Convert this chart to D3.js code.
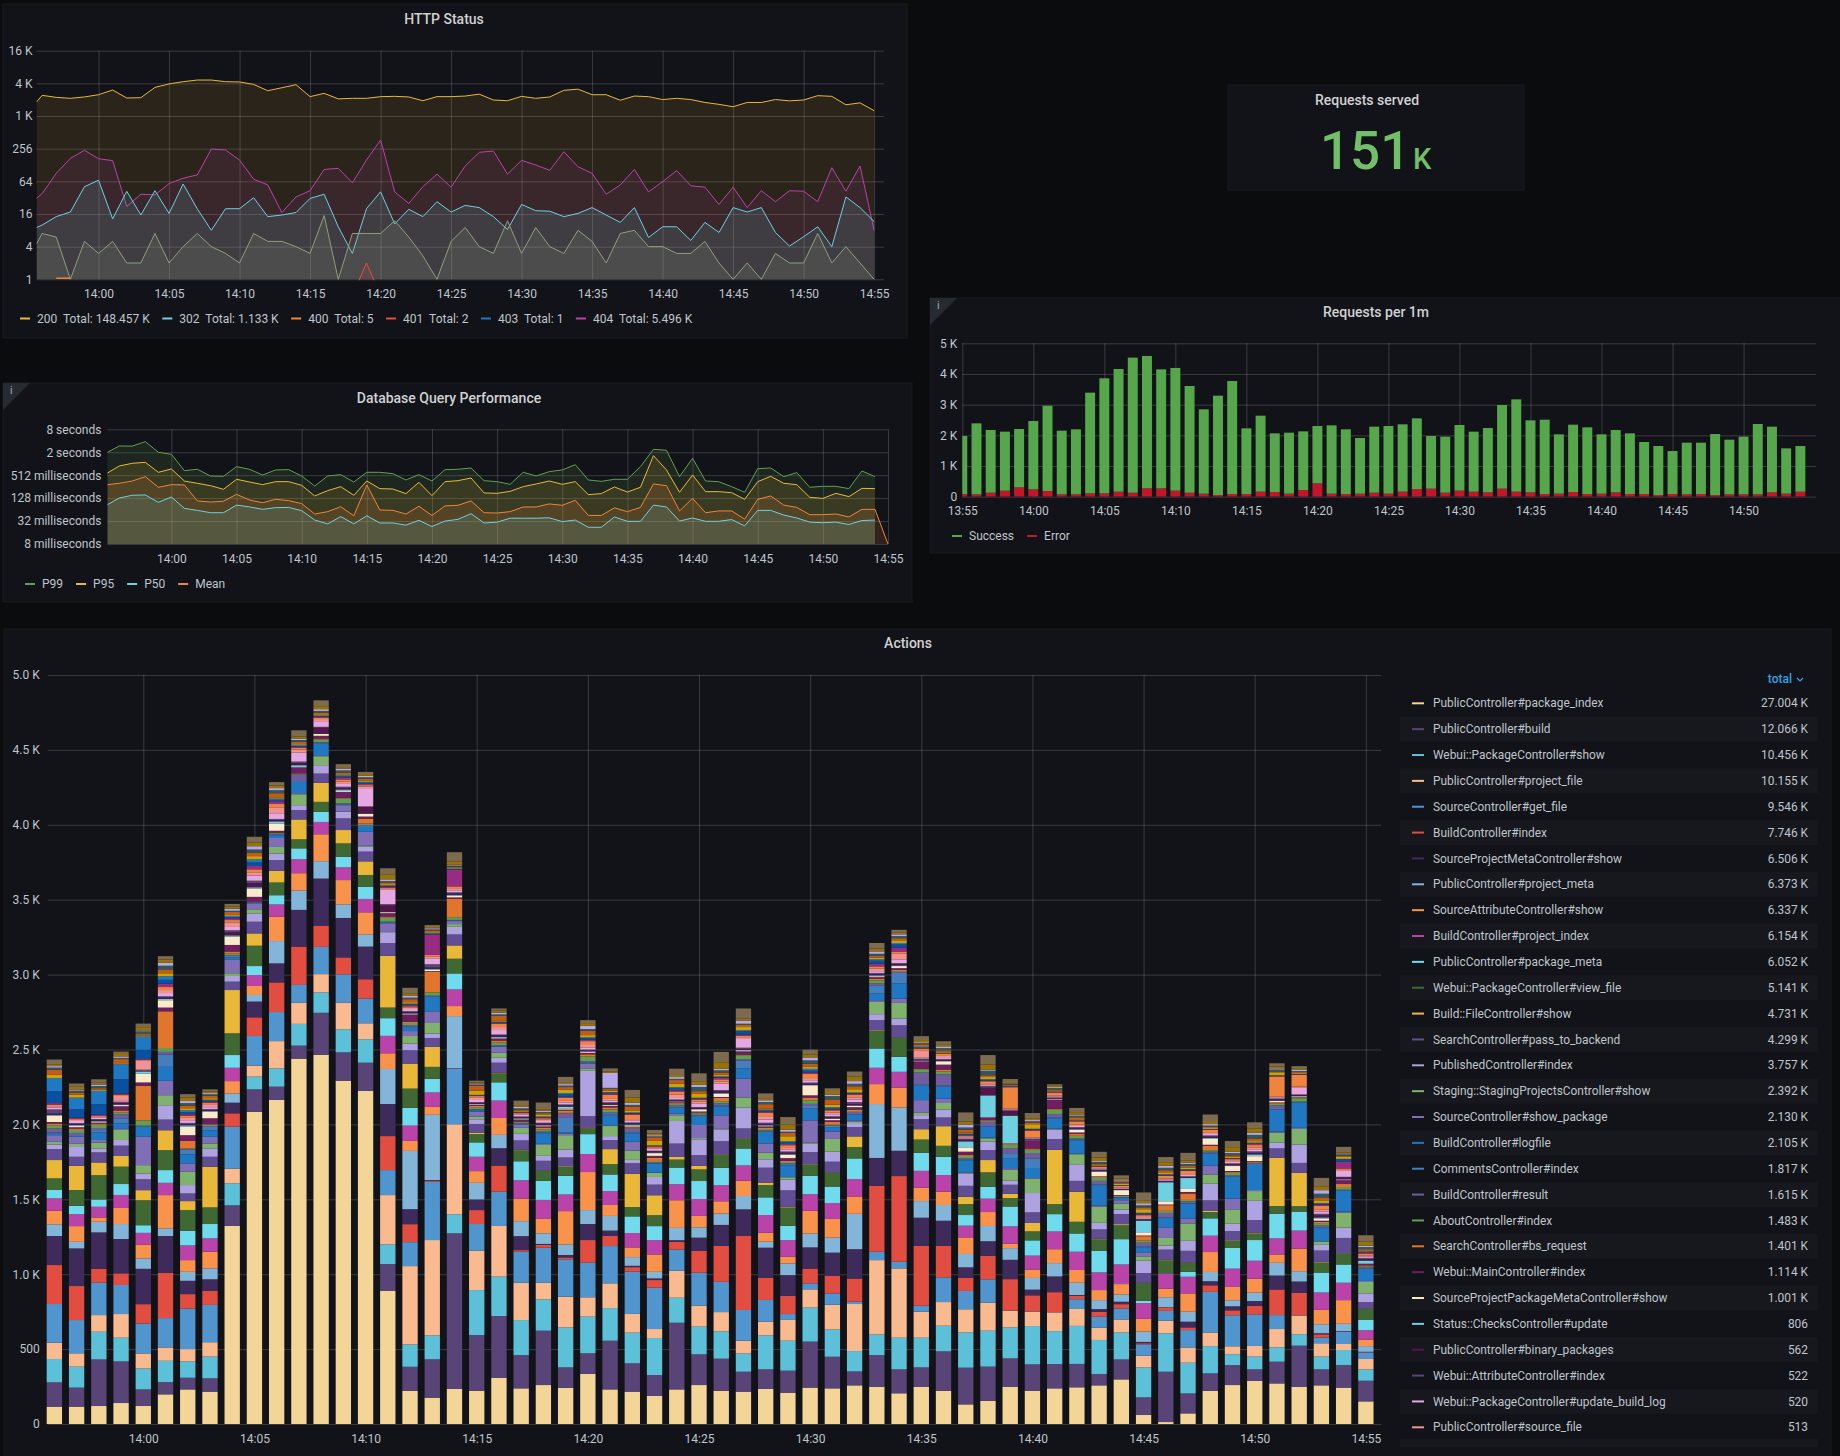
<!DOCTYPE html>
<html lang="en">
  <head>
    <meta charset="UTF-8" />
    <title>Grafana dashboard</title>
    <style>
      html, body { margin: 0; background: #0b0c0e; }
      svg { display: block; }
      text { font-family: Roboto, sans-serif; }
      .tick text { font-size: 12px; fill: #bfc5cc; }
      .tick line { stroke: rgba(255, 255, 255, 0.17); }
      .domain { display: none; }
      .title { font-size: 14px; font-weight: 500; fill: #d0d1d3; text-anchor: middle; }
      .leg { font-size: 12px; fill: #bfc5cc; }
      .row { font-size: 11.9px; fill: #bfc5cc; }
    </style>
  </head>
  <body>
    <svg id="dash" width="1840" height="1456"></svg>
    <script src="https://cdnjs.cloudflare.com/ajax/libs/d3/7.1.0/d3.min.js"></script>
    <script>
      // HTTP Status, per minute from 13:55:36 to 14:55
      const http200 = [1853, 2461, 2260, 2170, 2300, 2530, 3086, 2200, 2230, 3450, 4000, 4396, 4716, 4716, 4400, 4350, 3920, 3000, 3400, 3870, 2330, 2680, 2120, 2170, 2170, 2330, 2360, 2300, 1960, 2330, 2330, 2390, 2590, 2020, 1960, 2360, 2170, 2300, 3050, 3200, 2530, 2530, 2000, 2390, 2330, 2060, 2170, 2060, 1820, 1680, 1520, 1820, 1820, 2060, 1950, 2020, 2430, 2360, 1650, 1790, 1285];
      const http302 = [9, 10, 14.3, 17.4, 51, 67, 13, 42, 15.3, 43, 16.4, 57, 20, 8, 20, 20, 32, 14.3, 15.3, 17, 31, 37, 9.3, 3, 20, 41, 10.5, 19.5, 14.3, 27, 17.4, 23, 21, 14.3, 8.3, 24, 18.4, 18, 14.3, 16.4, 21, 15.3, 11.2, 21, 5.9, 9.3, 9.3, 5.2, 11.2, 7.3, 21, 17.4, 21, 7.3, 4.1, 6.1, 9.3, 4, 33, 21, 11.6];
      const http404 = [31, 38, 90, 170, 239, 167, 154, 22, 37, 36, 58, 73, 84, 252, 242, 158, 70, 55, 17, 33, 43, 106, 111, 60, 158, 370, 41, 25, 51, 87, 50, 123, 219, 232, 87, 156, 128, 102, 225, 119, 90, 37, 55, 106, 41, 63, 101, 53, 50, 24, 50, 21, 43, 27, 43, 42, 27, 114, 42, 123, 8];
      const httpOther = [4.5, 7, 6, 1, 5, 3, 5, 2, 2, 7, 2, 4, 7, 4, 3, 2, 7, 5, 5, 4, 3, 15, 1, 7, 7, 7, 12, 6, 2.7, 1, 5, 9, 4, 3, 12, 3, 9, 4, 3, 8, 5, 2, 7, 8, 4, 4, 3, 3, 5, 2, 1, 2, 1, 3, 2, 2, 7, 2, 4, 2, 1];
      const http400 = [[-3, 1], [-2, 1]];
      const http401 = [[18, 0.5], [19, 2], [20, 0.5]];
      const httpTicks = [1, 4, 16, 64, 256, 1024, 4096, 16384];
      const httpTickLabels = ["1", "4", "16", "64", "256", "1 K", "4 K", "16 K"];
      const httpLegend = [["200", "Total: 148.457 K"], ["302", "Total: 1.133 K"], ["400", "Total: 5"], ["401", "Total: 2"], ["403", "Total: 1"], ["404", "Total: 5.496 K"]];

      // Database Query Performance, milliseconds
      const dbP99 = [2040, 2992, 2970, 3886, 2040, 1808, 673, 730, 488, 478, 857, 730, 518, 701, 715, 488, 267, 488, 529, 339, 609, 609, 562, 383, 529, 360, 715, 730, 791, 368, 346, 295, 609, 488, 634, 701, 968, 383, 353, 399, 399, 857, 2446, 2304, 469, 1419, 360, 346, 256, 182, 760, 791, 469, 597, 246, 261, 261, 227, 660, 469];
      const dbP95 = [585, 893, 1049, 1114, 609, 745, 360, 313, 272, 218, 399, 339, 289, 346, 346, 278, 146, 201, 256, 152, 360, 227, 222, 168, 333, 149, 346, 368, 432, 175, 171, 193, 256, 301, 360, 295, 346, 158, 168, 251, 185, 246, 1668, 701, 182, 518, 189, 189, 178, 119, 346, 478, 313, 289, 134, 126, 171, 140, 231, 227];
      const dbP50 = [86, 129, 152, 155, 99, 137, 69, 61, 53, 53, 84, 75, 65, 72, 73, 60, 34, 27, 42, 27, 44, 28.5, 28.5, 25, 33.5, 23, 32, 35.5, 50, 28.5, 30, 38, 38, 38, 39, 31, 34, 22, 22, 41, 31.5, 31.5, 84, 75, 32, 38.5, 31.5, 31.5, 35, 24, 61, 61, 46, 38.5, 30, 29, 30, 26, 33, 34];
      const dbMean = [289, 313, 360, 469, 246, 289, 283, 108, 101, 106, 161, 114, 97, 119, 110, 92, 49, 56.5, 76, 44, 283, 62.5, 61, 49, 78, 45, 80, 83, 108, 53, 52, 56.5, 75, 75, 90, 83, 112, 45, 45, 71, 56.5, 73, 301, 272, 59, 126, 53, 59, 59, 36, 119, 146, 84, 73, 47, 47, 49, 41, 65, 65, 8];
      const dbTicks = [8, 32, 128, 512, 2048, 8192];
      const dbTickLabels = ["8 milliseconds", "32 milliseconds", "128 milliseconds", "512 milliseconds", "2 seconds", "8 seconds"];
      const dbLegend = ["P99", "P95", "P50", "Mean"];

      // Requests per 1m, 13:55 to 14:54
      const reqSuccess = [1891, 2315, 2044, 1924, 1903, 2228, 2782, 2076, 2120, 3282, 3750, 4000, 4403, 4315, 3880, 4000, 3479, 2750, 3239, 3685, 2141, 2478, 1913, 1989, 1913, 1869, 2228, 2109, 1815, 2153, 2206, 2196, 2304, 1717, 1827, 2141, 1957, 2098, 2728, 3011, 2348, 2424, 1935, 2196, 2174, 1935, 2033, 1978, 1696, 1598, 1402, 1685, 1674, 1989, 1783, 1881, 2294, 2142, 1478, 1489];
      const reqError = [87, 76, 130, 196, 304, 239, 185, 76, 76, 109, 109, 163, 130, 272, 272, 196, 130, 98, 54, 87, 87, 163, 152, 98, 217, 435, 98, 87, 98, 130, 98, 163, 250, 261, 130, 196, 163, 141, 261, 163, 141, 87, 98, 152, 87, 98, 141, 87, 87, 54, 87, 76, 87, 54, 76, 76, 76, 141, 98, 163];
      const reqTicks = [0, 1000, 2000, 3000, 4000, 5000];
      const reqTickLabels = ["0", "1 K", "2 K", "3 K", "4 K", "5 K"];

      // Actions legend, in stack order
      const actionNames = ["PublicController#package_index", "PublicController#build", "Webui::PackageController#show", "PublicController#project_file", "SourceController#get_file", "BuildController#index", "SourceProjectMetaController#show", "PublicController#project_meta", "SourceAttributeController#show", "BuildController#project_index", "PublicController#package_meta", "Webui::PackageController#view_file", "Build::FileController#show", "SearchController#pass_to_backend", "PublishedController#index", "Staging::StagingProjectsController#show", "SourceController#show_package", "BuildController#logfile", "CommentsController#index", "BuildController#result", "AboutController#index", "SearchController#bs_request", "Webui::MainController#index", "SourceProjectPackageMetaController#show", "Status::ChecksController#update", "PublicController#binary_packages", "Webui::AttributeController#index", "Webui::PackageController#update_build_log", "PublicController#source_file"];
      const actionTotals = ["27.004 K", "12.066 K", "10.456 K", "10.155 K", "9.546 K", "7.746 K", "6.506 K", "6.373 K", "6.337 K", "6.154 K", "6.052 K", "5.141 K", "4.731 K", "4.299 K", "3.757 K", "2.392 K", "2.130 K", "2.105 K", "1.817 K", "1.615 K", "1.483 K", "1.401 K", "1.114 K", "1.001 K", "806", "562", "522", "520", "513"];
      // the 29 above, then the ten smaller actions scrolled out of the legend
      const actionColors = ["#F4D598", "#584477", "#5CC0D8", "#F9BA8F", "#5195CE", "#E24D42", "#3F2B5B", "#82B5D8", "#F9934C", "#BA43A9", "#70DBED", "#3F6833", "#EAB839", "#614D93", "#AEA2E0", "#7EB26D", "#806EB7", "#1F78C1", "#447EBC", "#705DA0", "#629E51", "#E0752D", "#6D1F62", "#FCEACA", "#6ED0E0", "#511749", "#584477", "#E5A8E2", "#F29191", "#EF843C", "#962D82", "#0A50A1", "#1F78C1", "#CCA300", "#C15C17", "#2F575E", "#B7A8E8", "#967302", "#7D6B4F"];
      const actionTicks = [0, 500, 1000, 1500, 2000, 2500, 3000, 3500, 4000, 4500, 5000];
      const actionTickLabels = ["0", "500", "1.0 K", "1.5 K", "2.0 K", "2.5 K", "3.0 K", "3.5 K", "4.0 K", "4.5 K", "5.0 K"];

      const actions1356 = [116,162,156,109,258,260,194,78,91,82,56,78,122,73,31,18,44,10,8,26,22,12,10,40,6,10,28,12,10,8,12,78,89,22,34,14,10,12,32];
      const actions1357 = [116,127,140,89,222,227,251,44,105,80,56,105,162,60,71,18,44,6,6,14,20,10,8,8,6,8,6,14,8,6,8,56,78,20,14,12,8,18,22];
      const actions1358 = [120,311,185,111,216,93,243,71,29,71,49,162,85,67,27,38,18,50,16,14,22,8,6,6,4,8,6,8,6,6,8,71,89,8,10,14,10,12,23];
      const actions1359 = [140,278,158,158,194,78,229,100,107,87,73,116,71,69,38,67,11,34,33,26,14,12,28,8,4,10,8,6,33,8,8,96,100,6,28,8,10,22,10];
      const actions1400 = [120,111,140,100,200,129,236,69,93,78,51,167,67,73,38,56,189,67,4,4,35,231,22,58,16,4,4,4,62,4,4,62,89,6,10,18,6,22,24];
      const actions1401 = [198,82,142,89,196,303,245,51,222,82,85,133,133,71,96,67,96,93,82,18,26,245,25,49,8,10,8,22,20,20,22,26,24,20,26,24,20,22,22];
      const actions1402 = [231,78,109,82,271,96,89,60,78,98,98,138,60,51,56,89,56,60,33,2,4,51,38,56,10,8,8,18,16,14,10,14,12,14,18,16,14,24,22];
      const actions1403 = [216,89,145,96,249,93,78,73,111,89,96,111,271,67,56,33,44,44,22,6,8,4,40,44,4,6,8,12,20,10,8,6,6,10,16,10,8,12,13];
      const actions1404 = [1322,138,147,98,280,89,71,62,82,89,85,145,289,56,38,18,93,14,8,4,12,14,44,56,8,20,14,22,30,16,12,8,8,6,20,8,14,14,18];
      const actions1405 = [2083,151,85,73,198,125,105,44,60,73,60,136,82,78,56,27,40,4,2,2,2,2,31,56,8,28,16,34,22,20,22,24,20,22,24,20,22,25,38];
      const actions1406 = [2163,89,122,182,194,198,127,149,162,82,62,85,78,71,44,44,60,18,6,4,6,2,12,49,14,8,8,38,40,22,18,10,8,8,28,20,14,18,22];
      const actions1407 = [2439,87,145,142,118,256,245,129,116,93,73,60,133,62,33,73,7,75,6,44,6,2,40,2,12,14,10,60,20,12,6,6,6,6,16,12,10,14,41];
      const actions1408 = [2465,280,136,122,182,142,314,116,180,82,67,67,127,62,56,60,6,78,6,4,18,6,18,12,2,40,6,38,14,10,6,4,4,8,12,10,12,20,39];
      const actions1409 = [2292,189,154,178,189,113,263,91,162,85,71,89,89,78,44,2,42,4,4,4,33,4,40,6,10,10,8,19,16,14,14,6,8,6,12,14,12,10,20];
      const actions1410 = [2225,187,156,107,165,129,218,82,147,89,82,78,91,65,33,6,93,33,6,6,10,33,14,18,2,44,4,122,10,10,8,8,6,6,14,10,10,12,14];
      const actions1411 = [890,178,131,329,167,227,214,234,105,116,118,71,345,85,73,2,58,4,4,2,27,8,22,6,2,44,8,96,6,8,8,4,4,8,12,8,12,34,40];
      const actions1412 = [222,160,149,523,160,120,100,389,67,102,118,129,167,89,44,51,33,22,10,8,14,8,49,4,4,8,6,14,10,8,8,6,4,10,20,10,12,14,40];
      const actions1413 = [176,256,160,636,389,7,4,436,53,96,91,80,133,60,29,71,78,96,4,4,22,138,4,10,6,8,22,40,10,12,138,4,4,6,12,6,8,8,14];
      const actions1414 = [234,1039,127,601,369,2,2,349,67,111,107,98,89,73,51,18,20,4,2,2,18,122,10,12,6,8,8,14,14,12,111,4,4,6,6,8,6,22,61];
      const actions1415 = [222,372,300,263,178,93,71,111,78,96,96,56,9,58,31,18,33,8,6,4,12,10,6,4,2,6,6,14,18,8,4,2,2,28,33,8,6,8,12];
      const actions1416 = [309,412,263,338,229,174,116,89,113,116,122,60,4,67,33,33,40,4,2,4,18,14,14,4,6,10,6,30,20,22,6,4,4,8,30,10,12,14,14];
      const actions1417 = [238,222,234,249,207,11,93,100,151,122,127,73,4,62,44,40,22,4,2,2,8,4,14,4,4,6,6,12,6,6,4,2,2,6,8,8,10,12,30];
      const actions1418 = [260,363,209,111,234,18,7,71,96,127,127,67,2,65,33,73,7,71,6,6,14,12,8,6,2,10,6,12,10,8,6,2,4,14,8,8,8,10,45];
      const actions1419 = [242,136,267,205,249,13,16,71,222,111,125,60,4,58,53,96,11,6,98,30,4,16,6,8,12,8,6,14,10,22,6,18,6,22,18,10,10,8,40];
      const actions1420 = [334,138,245,129,231,151,107,93,254,120,133,40,4,76,303,16,33,4,4,6,33,14,10,6,4,6,6,14,22,20,10,10,6,14,30,10,22,18,20];
      const actions1421 = [231,325,218,165,249,67,36,98,73,93,111,69,100,60,27,67,4,69,6,14,18,14,10,6,2,8,8,12,10,28,10,4,4,8,12,8,100,10,20];
      const actions1422 = [216,189,205,125,283,29,9,58,65,96,111,62,222,71,22,62,60,56,6,24,4,6,4,8,6,8,6,14,8,29,8,4,4,14,26,10,14,36,50];
      const actions1423 = [187,140,247,60,276,51,11,44,116,96,93,73,133,71,51,27,2,60,2,8,8,22,12,18,4,8,4,14,6,8,4,2,2,30,24,6,8,10,25];
      const actions1424 = [231,445,167,180,142,51,11,82,185,107,111,53,18,89,151,38,11,40,4,10,10,6,6,4,2,6,6,10,24,20,8,16,4,24,24,8,12,14,42];
      const actions1425 = [260,205,185,140,220,147,87,69,76,113,120,78,24,71,105,9,87,60,4,4,10,6,6,14,4,6,6,22,14,12,6,4,4,26,18,28,14,24,53];
      const actions1426 = [222,214,182,129,202,240,140,76,82,107,116,85,4,89,78,4,91,60,6,14,14,22,6,22,4,12,8,44,14,14,12,4,4,12,14,14,10,44,69];
      const actions1427 = [216,133,122,85,205,496,176,89,102,102,113,67,2,65,140,67,127,67,51,8,29,4,22,6,4,6,8,58,12,10,8,24,4,22,14,8,20,14,68];
      const actions1428 = [234,131,227,91,145,149,200,40,60,118,118,82,16,100,56,44,62,78,4,4,10,10,8,4,4,8,8,22,22,22,10,6,6,6,30,14,12,14,32];
      const actions1429 = [209,147,200,142,36,122,138,78,44,111,96,122,4,111,71,16,2,78,8,6,8,8,18,22,4,10,8,14,10,18,8,14,4,34,22,8,14,34,50];
      const actions1430 = [243,307,227,122,40,98,142,93,151,111,122,73,4,82,56,7,149,78,18,14,24,18,15,67,2,8,8,16,14,28,10,12,12,14,20,22,20,20,32];
      const actions1431 = [238,211,182,165,76,118,154,100,125,105,111,93,2,71,67,85,49,30,8,4,4,18,12,10,2,8,6,14,12,14,6,10,4,18,35,22,10,24,18];
      const actions1432 = [258,93,136,314,16,154,196,236,116,116,138,76,71,62,27,11,7,38,4,14,6,10,16,10,2,10,12,18,14,16,8,4,4,22,20,16,18,30,34];
      const actions1433 = [249,211,138,496,56,441,185,360,133,109,129,118,4,67,40,82,11,44,56,12,20,12,10,6,6,8,8,12,18,14,18,20,10,10,12,14,16,18,38];
      const actions1434 = [205,160,211,463,44,572,169,289,133,105,100,127,2,82,44,105,29,100,71,6,6,8,12,14,4,8,8,22,40,12,30,20,10,18,14,14,12,10,20];
      const actions1435 = [249,129,198,174,40,400,187,111,89,113,120,89,69,67,27,18,82,100,6,78,22,4,49,4,2,4,8,6,46,14,4,4,6,4,12,8,6,14,26];
      const actions1436 = [222,263,171,158,165,211,167,105,89,111,122,73,131,58,53,44,29,82,4,76,20,12,33,22,2,6,8,12,8,16,2,2,2,8,8,14,12,14,20];
      const actions1437 = [131,245,236,154,122,89,69,89,111,78,71,73,49,73,82,4,4,80,4,8,18,6,22,29,40,10,8,6,6,8,4,6,4,6,20,14,20,20,61];
      const actions1438 = [154,229,240,187,156,156,98,102,93,89,80,96,82,67,56,22,4,74,4,28,8,4,18,2,145,51,11,6,6,20,4,6,4,14,12,30,8,34,63];
      const actions1439 = [249,189,207,111,2,209,129,78,29,116,133,56,29,60,27,73,11,67,33,34,22,6,2,2,185,33,2,6,6,142,4,2,2,4,6,8,6,10,13];
      const actions1440 = [222,176,256,96,2,107,38,78,56,93,102,60,56,71,129,96,4,67,62,38,22,8,56,2,2,4,2,4,4,44,8,4,2,30,12,8,8,12,35];
      const actions1441 = [238,162,220,125,2,133,105,89,93,118,116,67,363,71,62,4,4,69,6,22,29,6,62,4,2,4,4,6,8,16,6,2,2,6,8,10,6,12,6];
      const actions1442 = [245,156,254,113,65,24,4,82,85,122,122,78,200,73,111,67,4,89,4,8,18,12,10,18,4,6,8,8,8,22,4,2,2,6,14,10,8,16,28];
      const actions1443 = [258,76,227,82,73,33,18,60,67,118,145,76,4,62,44,107,9,136,4,24,20,6,4,30,4,6,6,6,4,8,4,2,2,6,8,10,6,24,38];
      const actions1444 = [298,133,180,87,73,29,16,49,69,131,169,93,7,67,31,40,22,14,4,4,6,2,4,33,2,4,4,6,4,8,2,2,2,10,8,6,8,10,23];
      const actions1445 = [60,118,200,78,76,7,9,69,85,105,16,118,2,65,82,29,27,34,6,24,14,30,4,22,78,6,6,6,6,12,6,6,4,24,12,14,14,16,56];
      const actions1446 = [13,336,256,85,65,22,2,67,58,100,2,87,4,67,27,51,71,62,4,30,14,38,4,22,127,6,4,8,6,18,4,4,4,12,14,16,14,24,34];
      const actions1447 = [71,133,205,102,116,18,38,67,122,111,33,60,2,78,67,116,33,100,2,12,10,43,10,20,73,6,6,8,6,22,4,4,4,8,12,14,8,16,50];
      const actions1448 = [222,116,182,91,271,44,27,62,133,109,116,42,7,71,111,62,60,80,4,8,10,30,6,40,6,8,8,10,12,16,2,2,2,6,8,8,10,14,50];
      const actions1449 = [260,133,73,53,207,33,27,40,89,122,138,47,4,62,49,96,71,145,4,6,18,6,6,33,4,8,6,10,6,12,4,2,2,8,10,14,10,30,41];
      const actions1450 = [287,78,85,71,211,56,33,56,93,120,138,44,4,85,129,65,7,167,6,6,4,6,4,33,12,10,10,14,10,18,8,4,4,10,18,24,14,30,40];
      const actions1451 = [271,145,96,122,93,171,93,85,56,107,165,51,323,62,38,67,7,145,4,26,12,6,2,10,2,8,6,8,6,133,4,2,2,20,6,12,8,12,22];
      const actions1452 = [249,274,76,125,2,149,76,69,151,120,127,36,222,67,122,105,7,167,4,4,22,6,2,4,4,6,4,44,8,78,4,2,2,6,6,6,8,6,19];
      const actions1453 = [258,107,85,89,38,22,7,60,96,116,133,67,4,76,38,22,2,89,4,12,16,8,8,16,6,14,10,16,14,24,8,6,4,18,20,24,24,26,56];
      const actions1454 = [243,151,100,40,82,2,2,49,158,116,122,73,2,102,69,100,7,138,4,4,18,20,26,4,2,12,4,40,6,10,44,18,2,16,6,8,6,8,36];
      const actions1455 = [151,138,76,69,44,2,2,38,44,62,71,71,2,44,58,76,7,80,4,6,6,8,10,2,20,10,8,8,8,12,10,4,2,6,8,14,10,26,43];
      const actionRows = [actions1356, actions1357, actions1358, actions1359, actions1400, actions1401, actions1402, actions1403, actions1404, actions1405, actions1406, actions1407, actions1408, actions1409, actions1410, actions1411, actions1412, actions1413, actions1414, actions1415, actions1416, actions1417, actions1418, actions1419, actions1420, actions1421, actions1422, actions1423, actions1424, actions1425, actions1426, actions1427, actions1428, actions1429, actions1430, actions1431, actions1432, actions1433, actions1434, actions1435, actions1436, actions1437, actions1438, actions1439, actions1440, actions1441, actions1442, actions1443, actions1444, actions1445, actions1446, actions1447, actions1448, actions1449, actions1450, actions1451, actions1452, actions1453, actions1454, actions1455];

      const svg = d3.select("#dash");
      const base = new Date(2021, 0, 1, 14, 0).getTime();
      const at = (m) => new Date(base + m * 60000);
      const fmt = d3.timeFormat("%H:%M");

      function panel(x, y, w, h) {
        svg.append("rect").attr("x", x).attr("y", y).attr("width", w).attr("height", h)
          .attr("fill", "#121318").attr("stroke", "#191a1e");
      }
      function title(text, x, y) {
        svg.append("text").attr("class", "title").attr("x", x).attr("y", y).attr("dy", "0.35em").text(text);
      }
      function infoCorner(x, y) {
        svg.append("path").attr("d", `M${x},${y}h27L${x},${y + 27}z`).attr("fill", "#262a31");
        svg.append("text").attr("x", x + 7).attr("y", y + 11).attr("font-size", 11).attr("fill", "#9fa7b3").text("i");
      }
      function swatch(x, y, color) {
        svg.append("rect").attr("x", x).attr("y", y - 1).attr("width", 10).attr("height", 2).attr("fill", color);
      }
      function flowLegend(items, x, y, gap) {
        items.forEach((it) => {
          swatch(x, y, it.color);
          const a = svg.append("text").attr("class", "leg").attr("x", x + 17).attr("y", y).attr("dy", "0.35em").text(it.label);
          x += 17 + a.node().getComputedTextLength();
          if (it.total) {
            x = x - a.node().getComputedTextLength() + 26;
            const b = svg.append("text").attr("class", "leg").attr("x", x + 0).attr("y", y).attr("dy", "0.35em").text(it.total);
            x += b.node().getComputedTextLength();
          }
          x += gap;
        });
      }
      function axes(g, x, y, h, w, xTicks, yTicks, yLabels, pad) {
        g.append("g").attr("transform", `translate(0,${h})`)
          .call(d3.axisBottom(x).tickValues(xTicks.map(at)).tickFormat(fmt).tickSize(-h).tickPadding(10));
        g.append("g")
          .call(d3.axisLeft(y).tickValues(yTicks).tickFormat((d, i) => yLabels[i]).tickSize(-w).tickPadding(pad));
        g.selectAll(".tick text").attr("font-family", null).attr("font-size", null);
      }

      // ---- HTTP Status
      panel(3, 4, 904, 334);
      title("HTTP Status", 444, 19);
      (function () {
        const w = 847.5, h = 228.6;
        const g = svg.append("g").attr("transform", "translate(36.5,50.7)");
        const x = d3.scaleTime().domain([at(-4.4), at(55.7)]).range([0, w]);
        const y = d3.scaleLog().base(2).domain([1, 16384]).range([h, 0]);
        axes(g, x, y, h, w, d3.range(0, 56, 5), httpTicks, httpTickLabels, 4);
        g.append("clipPath").attr("id", "clipHttp").append("rect").attr("width", w).attr("height", h + 1);
        const plot = g.append("g").attr("clip-path", "url(#clipHttp)");
        const mins = [-4.4].concat(d3.range(-4, 56));
        const series = [
          { v: http200, color: "#EAB839", fill: 0.11 },
          { v: http404, color: "#BA43A9", fill: 0.11 },
          { v: http302, color: "#6ED0E0", fill: 0.13 },
          { v: httpOther, color: "#8F9F80", fill: 0.17 },
        ];
        series.forEach((s) => {
          const pts = s.v.map((d, i) => [mins[i], d]);
          plot.append("path").datum(pts).attr("fill", s.color).attr("fill-opacity", s.fill)
            .attr("d", d3.area().x((d) => x(at(d[0]))).y0(h).y1((d) => y(d[1])));
          plot.append("path").datum(pts).attr("fill", "none").attr("stroke", s.color).attr("stroke-width", 1)
            .attr("d", d3.line().x((d) => x(at(d[0]))).y((d) => y(d[1])));
        });
        plot.append("path").datum(http400).attr("fill", "none").attr("stroke", "#EF843C").attr("stroke-width", 1.5)
          .attr("d", d3.line().x((d) => x(at(d[0]))).y((d) => y(d[1]) - 1));
        plot.append("path").datum(http401).attr("fill", "#E24D42").attr("fill-opacity", 0.1).attr("stroke", "#E24D42")
          .attr("d", d3.line().x((d) => x(at(d[0]))).y((d) => y(d[1])));
        const cols = ["#EAB839", "#6ED0E0", "#EF843C", "#E24D42", "#1F78C1", "#BA43A9"];
        flowLegend(httpLegend.map((d, i) => ({ label: d[0], total: d[1], color: cols[i] })), 20, 318.5, 12.5);
      })();

      // ---- Requests served
      panel(1228, 85, 296, 105);
      title("Requests served", 1367, 100);
      svg.append("text").attr("x", 1320).attr("y", 169).attr("font-size", 53).attr("font-weight", 500).attr("fill", "#73BF69").text("151");
      svg.append("text").attr("x", 1413).attr("y", 169).attr("font-size", 29).attr("font-weight", 500).attr("fill", "#73BF69").text("K");

      // ---- Database Query Performance
      panel(3, 383, 909, 219);
      infoCorner(3, 383);
      title("Database Query Performance", 449, 398);
      (function () {
        const w = 780.6, h = 114.7;
        const g = svg.append("g").attr("transform", "translate(107.4,429.3)");
        const x = d3.scaleTime().domain([at(-4.91), at(55)]).range([0, w]);
        const y = d3.scaleLog().base(2).domain([8, 8192]).range([h, 0]);
        axes(g, x, y, h, w, d3.range(0, 56, 5), dbTicks, dbTickLabels, 6);
        const mins = [-4.9].concat(d3.range(-4, 56));
        const series = [
          { v: dbP99, color: "#629E51" },
          { v: dbP95, color: "#EAB839" },
          { v: dbMean, color: "#EF843C" },
          { v: dbP50, color: "#6ED0E0" },
        ];
        series.forEach((s) => {
          const pts = s.v.map((d, i) => [mins[i], d]);
          g.append("path").datum(pts).attr("fill", s.color).attr("fill-opacity", 0.14)
            .attr("d", d3.area().x((d) => x(at(d[0]))).y0(h).y1((d) => y(d[1])));
          g.append("path").datum(pts).attr("fill", "none").attr("stroke", s.color).attr("stroke-width", 1)
            .attr("d", d3.line().x((d) => x(at(d[0]))).y((d) => y(d[1])));
        });
        const cols = ["#629E51", "#EAB839", "#6ED0E0", "#EF843C"];
        flowLegend(dbLegend.map((d, i) => ({ label: d, color: cols[i] })), 25, 584, 13);
      })();

      // ---- Requests per 1m
      panel(930, 298, 912, 255);
      infoCorner(930, 298);
      title("Requests per 1m", 1376, 312);
      (function () {
        const w = 853.7, h = 153.4;
        const g = svg.append("g").attr("transform", "translate(962.3,343.3)");
        const x = d3.scaleTime().domain([at(-5), at(55.1)]).range([0, w]);
        const y = d3.scaleLinear().domain([0, 5000]).range([h, 0]);
        axes(g, x, y, h, w, d3.range(-5, 51, 5), reqTicks, reqTickLabels, 5);
        g.append("clipPath").attr("id", "clipReq").append("rect").attr("width", w).attr("height", h);
        const plot = g.append("g").attr("clip-path", "url(#clipReq)");
        const mins = d3.range(-5, 55);
        const barW = (x(at(1)) - x(at(0))) * 0.7;
        const rows = mins.map((m, i) => ({ m: m, error: reqError[i], success: reqSuccess[i] }));
        d3.stack().keys(["error", "success"])(rows).forEach((layer) => {
          plot.append("g").attr("fill", layer.key === "error" ? "#C4162A" : "#56A64B")
            .selectAll("rect").data(layer).join("rect")
            .attr("x", (d) => x(at(d.data.m)) - barW / 2)
            .attr("y", (d) => y(d[1]))
            .attr("width", barW)
            .attr("height", (d) => y(d[0]) - y(d[1]));
        });
        flowLegend([{ label: "Success", color: "#56A64B" }, { label: "Error", color: "#C4162A" }], 952, 536, 13);
      })();

      // ---- Actions
      panel(4, 629, 1827, 830);
      title("Actions", 908, 643);
      (function () {
        const w = 1333.5, h = 749;
        const g = svg.append("g").attr("transform", "translate(47.7,675)");
        const x = d3.scaleTime().domain([at(-4.3), at(55.69)]).range([0, w]);
        const y = d3.scaleLinear().domain([0, 5000]).range([h, 0]);
        axes(g, x, y, h, w, d3.range(0, 56, 5), actionTicks, actionTickLabels, 8);
        const mins = d3.range(-4, 56);
        const barW = (x(at(1)) - x(at(0))) * 0.69;
        const stacked = d3.stack().keys(d3.range(actionColors.length))(actionRows);
        stacked.forEach((layer, k) => {
          g.append("g").attr("fill", actionColors[k])
            .selectAll("rect").data(layer).join("rect")
            .attr("x", (d, i) => x(at(mins[i])) - barW / 2)
            .attr("y", (d) => y(d[1]))
            .attr("width", barW)
            .attr("height", (d) => y(d[0]) - y(d[1]));
        });

        svg.append("text").attr("x", 1792).attr("y", 679).attr("dy", "0.35em").attr("text-anchor", "end")
          .attr("font-size", 12).attr("font-weight", 500).attr("fill", "#33a2e5").text("total");
        svg.append("path").attr("d", "M1797,678l3,3l3,-3").attr("fill", "none").attr("stroke", "#33a2e5").attr("stroke-width", 1.2);
        const rowY = d3.scaleLinear().domain([0, 28]).range([703.3, 1427.3]);
        actionNames.forEach((name, i) => {
          const yy = rowY(i);
          if (i % 2 === 1) {
            svg.append("rect").attr("x", 1400).attr("y", yy - 12.5).attr("width", 418).attr("height", 25).attr("fill", "#17181d");
          }
          svg.append("rect").attr("x", 1412).attr("y", yy - 1).attr("width", 12).attr("height", 2).attr("fill", actionColors[i]);
          svg.append("text").attr("class", "row").attr("x", 1433).attr("y", yy).attr("dy", "0.35em").text(name);
          svg.append("text").attr("class", "row").attr("x", 1808).attr("y", yy).attr("dy", "0.35em").attr("text-anchor", "end").text(actionTotals[i]);
        });
        svg.append("rect").attr("x", 1400).attr("y", 1439).attr("width", 418).attr("height", 8).attr("fill", "#17181d");
      })();
    </script>
  </body>
</html>
